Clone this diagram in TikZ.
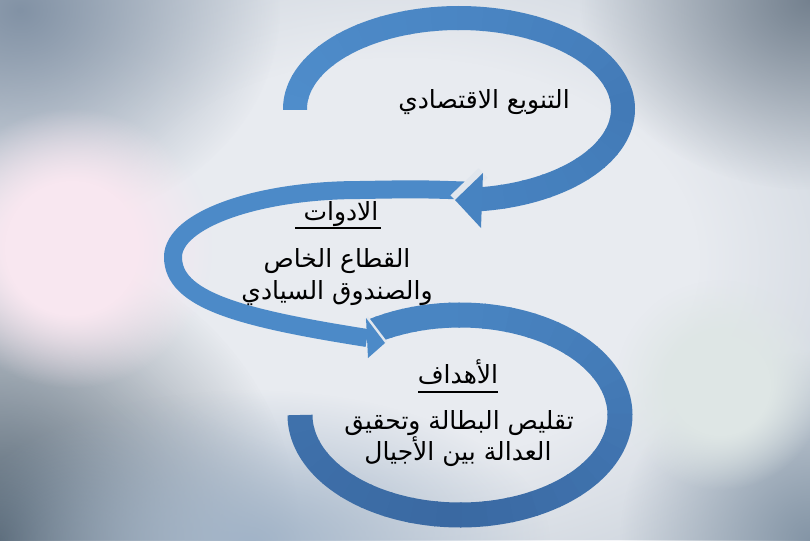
\documentclass[tikz,border=0pt]{standalone}
\usepackage{fontspec}
\newfontfamily\arabicfont[Script=Arabic]{DejaVu Sans}
\TeXXeTstate=1
\usetikzlibrary{fadings}
\definecolor{bgbase}{HTML}{C2CBD5}
\definecolor{bglight}{HTML}{E8EBF0}
\definecolor{bgdarkA}{HTML}{74818F}
\definecolor{bgdarkB}{HTML}{526270}
\definecolor{bgdarkD}{HTML}{8292A5}
\definecolor{bgpink}{HTML}{F8E7F0}
\definecolor{bggreen}{HTML}{DEE6E5}
\definecolor{bgblue}{HTML}{A2B4C8}
\definecolor{bgdarkC}{HTML}{8495A6}
\definecolor{gapc}{HTML}{E1E6ED}
\definecolor{tA}{HTML}{4F8DCB}
\definecolor{tB}{HTML}{4A86C4}
\definecolor{tC}{HTML}{4279B6}
\definecolor{tD}{HTML}{4783C1}
\definecolor{bA}{HTML}{4985C2}
\definecolor{bB}{HTML}{4277B3}
\definecolor{bC}{HTML}{3A69A2}
\definecolor{bD}{HTML}{3F71AB}
\definecolor{bandmid}{HTML}{4C8AC8}
\pgfdeclareradialshading{blobshade}{\pgfpointorigin}{color(0bp)=(pgftransparent!0); color(25bp)=(pgftransparent!100); color(50bp)=(pgftransparent!100)}
\pgfdeclarefading{blob}{\pgfuseshading{blobshade}}
\pgfdeclareradialshading{plateaushade}{\pgfpointorigin}{color(0bp)=(pgftransparent!0); color(12bp)=(pgftransparent!0); color(25bp)=(pgftransparent!100); color(50bp)=(pgftransparent!100)}
\pgfdeclarefading{plateau}{\pgfuseshading{plateaushade}}
% elliptic band piece with colour running from #7 to #8
% #1 cx, #2 cy, #3 rx, #4 ry, #5 start angle, #6 end angle, #7 #8 colours, #9 width
\newcommand\ellband[9]{%
  \foreach \k in {0,...,9}{%
    \pgfmathsetmacro\sa{#5+(#6-#5)*\k/10-0.6}%
    \pgfmathsetmacro\sb{#5+(#6-#5)*(\k+1)/10}%
    \pgfmathsetmacro\pc{95-10*\k}%
    \draw[draw=#7!\pc!#8, line width=#9, line cap=butt, line join=round]
      plot[domain=\sa:\sb, samples=8, variable=\a] ({#1+#3*cos(\a)},{#2+#4*sin(\a)});
  }}
\tikzset{
  arlbl/.style={font=\arabicfont\fontsize{25}{30}\selectfont, text=black, inner sep=0pt, anchor=base},
  bandB/.style={draw=bandmid, line width=18pt, line cap=butt, line join=round},
  gapline/.style={draw=gapc, line cap=butt},
  uline/.style={draw=black, line width=1.6pt},
}
\begin{document}
\begin{tikzpicture}[x=1pt,y=-1pt]
\useasboundingbox (0,0) rectangle (810,540);
% background
\begin{scope}
\clip (0,0) rectangle (810,540);
\fill[bgbase] (0,0) rectangle (810,540);
\fill[bglight, path fading=plateau] (400,260) ellipse [x radius=620pt, y radius=420pt];
\fill[bglight, path fading=blob] (90,190) ellipse [x radius=200pt, y radius=150pt];
\fill[bgdarkD, path fading=blob] (20,10) ellipse [x radius=260pt, y radius=220pt];
\fill[bgdarkA, path fading=blob] (810,0) ellipse [x radius=230pt, y radius=190pt];
\fill[bgdarkB, path fading=blob] (0,540) circle [radius=300pt];
\fill[bgdarkC, path fading=blob] (810,540) circle [radius=190pt];
\fill[bgblue, path fading=blob] (250,540) ellipse [x radius=300pt, y radius=150pt];
\fill[bgpink, path fading=plateau] (72,248) circle [radius=140pt];
\fill[bggreen, path fading=plateau] (720,385) circle [radius=105pt];
\end{scope}
% bottom band
\ellband{460}{415}{160}{100}{237}{270}{bA}{bA}{25pt}
\ellband{460}{415}{160}{100}{270}{360}{bA}{bB}{25pt}
\ellband{460}{415}{160}{100}{360}{450}{bB}{bC}{25pt}
\ellband{460}{415}{160}{100}{450}{540}{bC}{bD}{25pt}
% middle band
\draw[bandB] (478,191) .. controls (420,189) .. (360,190) .. controls (257,190) and (173,220) .. (173,257) .. controls (173,300) and (240,318) .. (367,338);
\coordinate (mhA) at (366,318);
\coordinate (mhT) at (385,343);
\coordinate (mhB) at (368,358);
\draw[gapline, line width=5pt] (mhA) -- (mhT);
\fill[bandmid] (mhA) -- (mhT) -- (mhB) -- cycle;
% top band
\ellband{459}{109}{164}{91}{180}{270}{tA}{tB}{24pt}
\ellband{459}{109}{164}{91}{270}{360}{tB}{tC}{24pt}
\ellband{459}{109}{164}{91}{360}{443}{tC}{tD}{24pt}
\coordinate (thA) at (483,173);
\coordinate (thT) at (455,200);
\coordinate (thB) at (481,228);
\draw[gapline, line width=13pt] (thA) -- (thT);
\fill[tD] (thA) -- (thT) -- (thB) -- cycle;
% texts
\node[arlbl] (t1) at (484,109) {\beginR التنويع الاقتصادي\endR};
\node[arlbl] (h1) at (341,220) {\beginR الادوات\endR};
\draw[uline] (295,228) -- (381,228);
\node[arlbl] (l1) at (337,267) {\beginR القطاع الخاص\endR};
\node[arlbl] (l2) at (337,299) {\beginR والصندوق السيادي\endR};
\node[arlbl] (h2) at (458,383) {\beginR الأهداف\endR};
\draw[uline] (418,392) -- (498,392);
\node[arlbl] (g1) at (459,429) {\beginR تقليص البطالة وتحقيق\endR};
\node[arlbl] (g2) at (458,460) {\beginR العدالة بين الأجيال\endR};
\end{tikzpicture}
\end{document}
